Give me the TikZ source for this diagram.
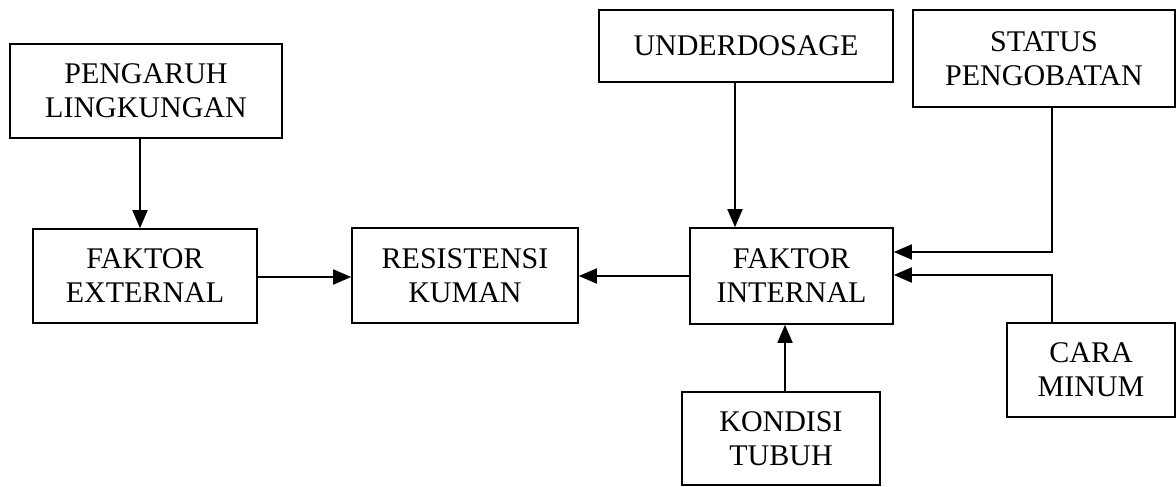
\documentclass[tikz,border=0pt]{standalone}
\usepackage{fontspec}
\setmainfont{Liberation Serif}
\usetikzlibrary{arrows.meta}
\begin{document}
\begin{tikzpicture}[x=1pt,y=-1pt,
  box/.style={draw=black,line width=1.6pt,rectangle,inner sep=0pt,align=center,
    font=\fontsize{30}{34}\selectfont},
  conn/.style={line width=1.8pt,-{Triangle[length=18pt,width=15pt]}}]
\useasboundingbox (0,0) rectangle (1176,487);
\node[box,minimum width=272pt,minimum height=94pt] (peng) at (146,91) {PENGARUH\\LINGKUNGAN};
\node[box,minimum width=224pt,minimum height=94pt] (ext) at (145,276) {FAKTOR\\EXTERNAL};
\node[box,minimum width=226pt,minimum height=95pt] (res) at (465,275.5) {RESISTENSI\\KUMAN};
\node[box,minimum width=203pt,minimum height=96pt] (int) at (791.5,276) {FAKTOR\\INTERNAL};
\node[box,minimum width=294pt,minimum height=72pt] (und) at (746,46) {UNDERDOSAGE};
\node[box,minimum width=262pt,minimum height=97pt] (stat) at (1044,58.5) {STATUS\\PENGOBATAN};
\node[box,minimum width=168pt,minimum height=94pt] (cara) at (1091,370) {CARA\\MINUM};
\node[box,minimum width=198pt,minimum height=93pt] (kond) at (781,438.5) {KONDISI\\TUBUH};
\coordinate (sx) at (1052,0);
\draw[conn] (peng.south -| 140,0) -- (ext.north -| 140,0);
\draw[conn] (ext.east |- 0,277) -- (res.west |- 0,277);
\draw[conn] (int.west |- 0,276) -- (res.east |- 0,276);
\draw[conn] (und.south -| 735,0) -- (int.north -| 735,0);
\draw[conn] (kond.north -| 785,0) -- (int.south -| 785,0);
\draw[conn] (stat.south -| sx) -- (sx |- 0,252) -- (int.east |- 0,252);
\draw[conn] (cara.north -| sx) -- (sx |- 0,275) -- (int.east |- 0,275);
\end{tikzpicture}
\end{document}
